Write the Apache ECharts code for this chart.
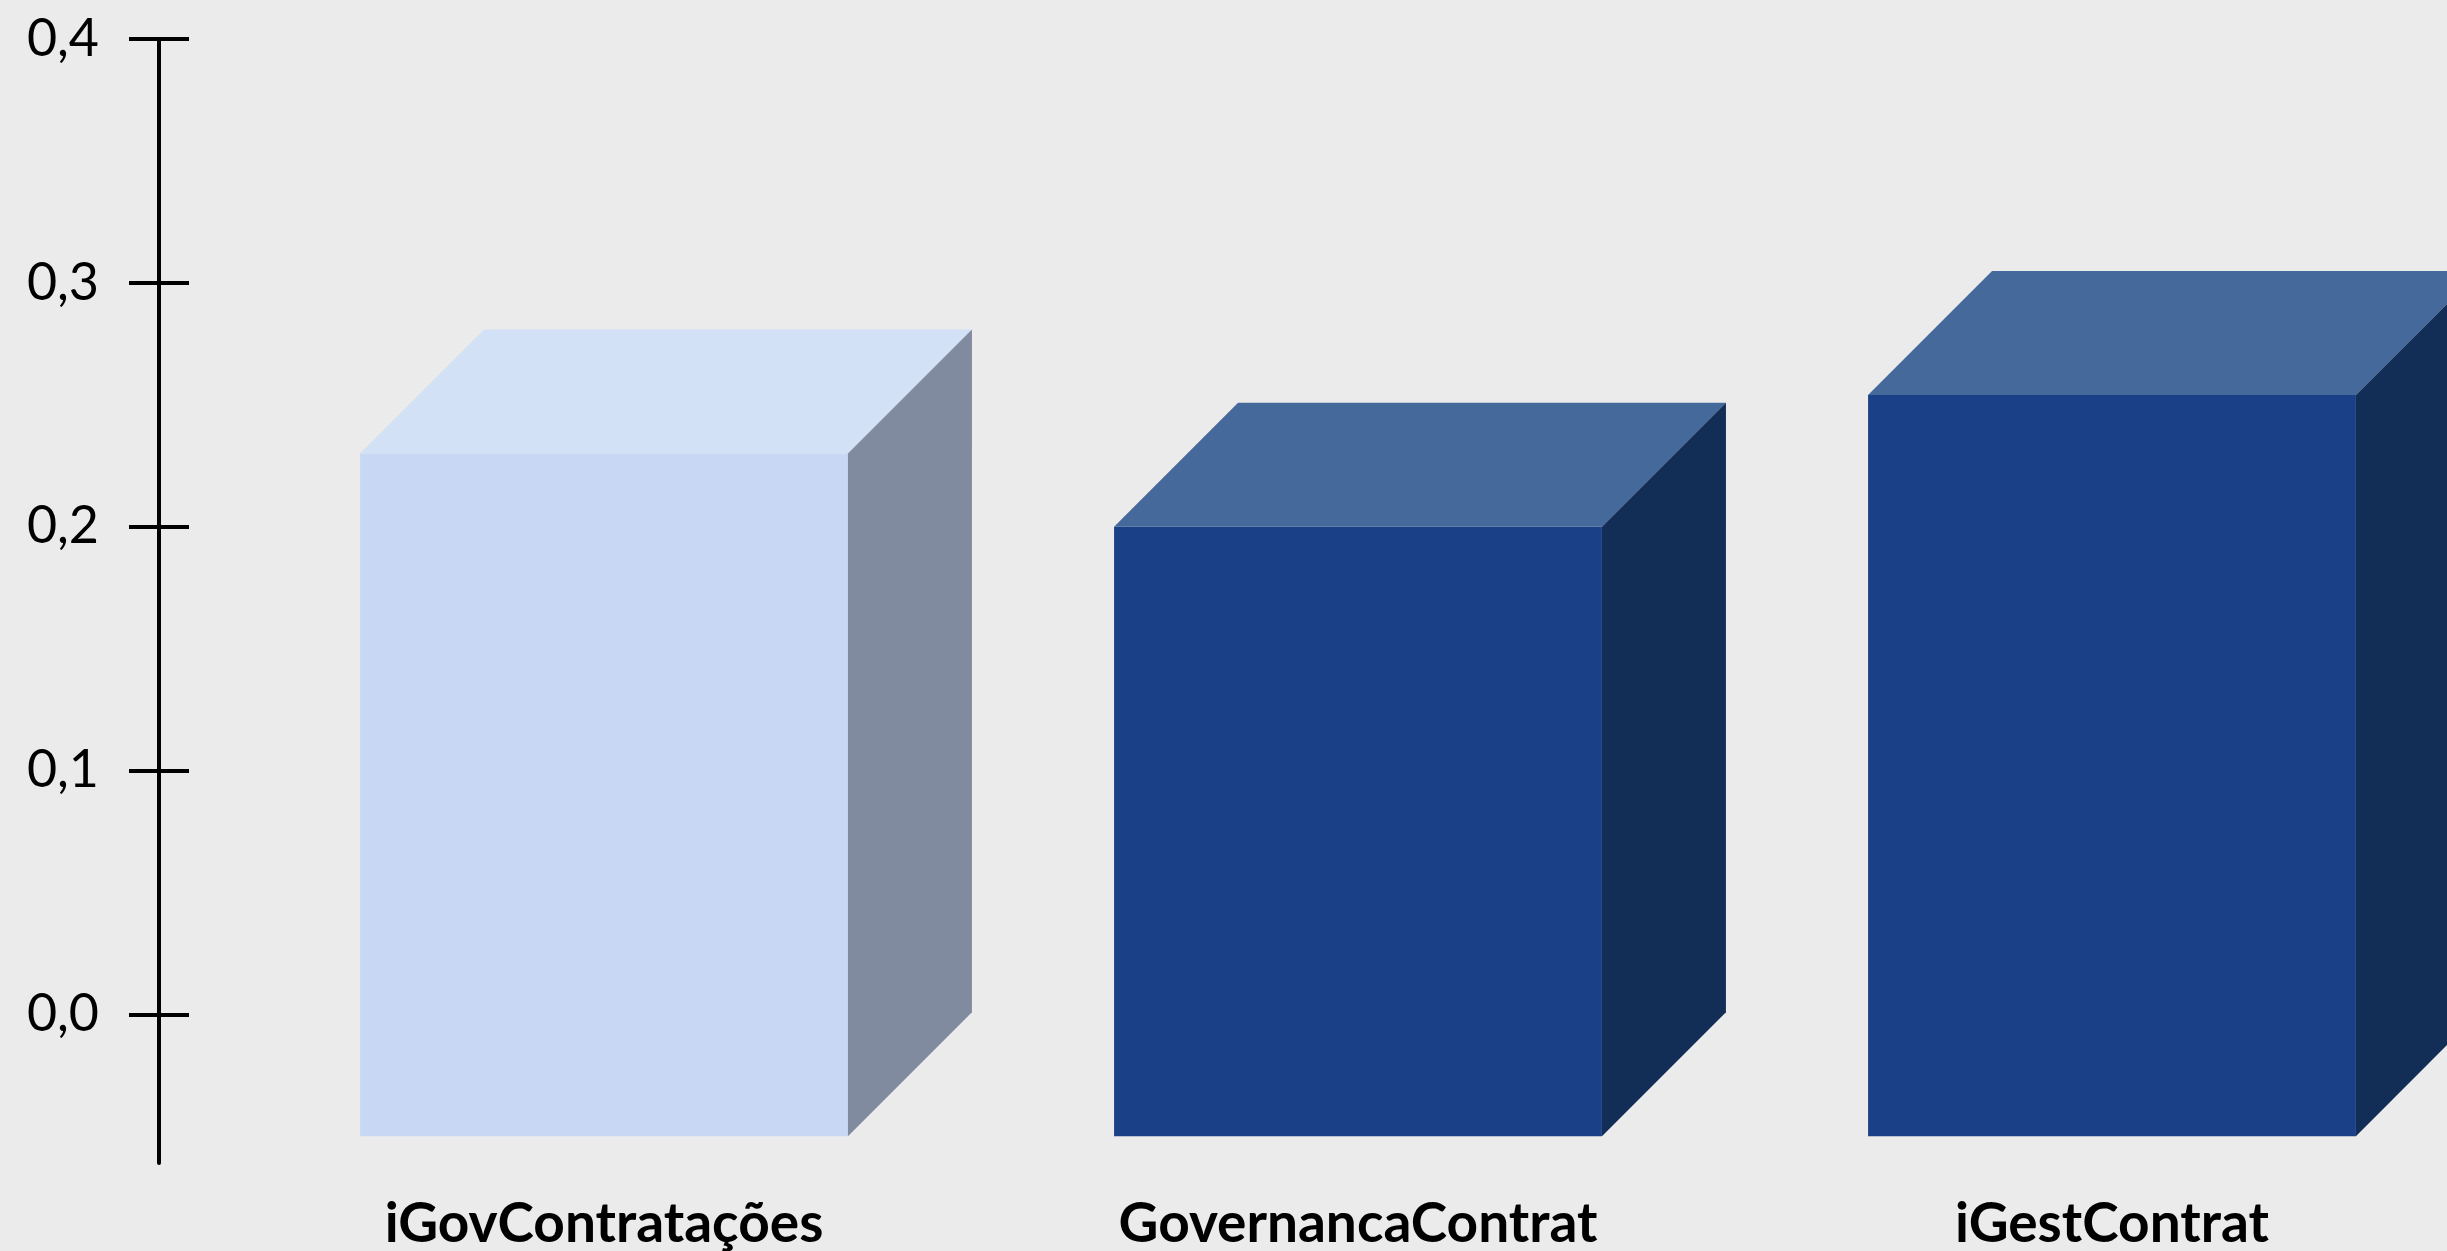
<!DOCTYPE html>
<html>
<head>
<meta charset="utf-8">
<script src="https://cdn.jsdelivr.net/npm/echarts@6/dist/echarts.min.js"></script>
<style>
  html, body { margin: 0; padding: 0; background: #EBEBEB; }
  #chart { width: 2447px; height: 1251px; }
</style>
</head>
<body>
<div id="chart"></div>
<script>
// ---- data ----
const categories = ['iGovContratações', 'GovernancaContrat', 'iGestContrat'];
const values = [0.23, 0.20, 0.254];
const barBase = -0.05;
const yTicks = [0, 0.1, 0.2, 0.3, 0.4];
const yMin = -0.061;
const yMax = 0.4;

// ---- styles ----
const palettes = [
  { front: '#C8D7F4', top: '#D2E1F6', side: '#818B9F' },
  { front: '#1A4087', top: '#46699C', side: '#122D56' },
  { front: '#1A4087', top: '#46699C', side: '#122D56' }
];
const DEPTH = 124;
const BAR_RATIO = 0.647;

const chart = echarts.init(document.getElementById('chart'), null, { renderer: 'canvas' });

const fmt = v => v.toFixed(1).replace('.', ',');

const option = {
  backgroundColor: '#EBEBEB',
  animation: false,
  grid: { left: 227, width: 2262, top: 39, height: 1124, containLabel: false, outerBoundsMode: 'none' },
  xAxis: {
    type: 'category',
    data: categories,
    axisLine: { show: false },
    axisTick: { show: false },
    splitLine: { show: false },
    axisLabel: {
      interval: 0,
      margin: 34,
      color: '#000',
      fontFamily: 'Lato',
      fontWeight: 'bold',
      fontSize: 55
    }
  },
  yAxis: [
    {
      type: 'value',
      min: yMin,
      max: yMax,
      position: 'left',
      offset: 68,
      splitLine: { show: false },
      axisLine: { show: true, lineStyle: { color: '#000', width: 4 } },
      axisTick: { show: true, length: 30, lineStyle: { color: '#000', width: 4 }, customValues: yTicks },
      axisLabel: {
        customValues: yTicks,
        formatter: fmt,
        margin: 60,
        color: '#000',
        fontFamily: 'Lato',
        fontSize: 52
      }
    },
    {
      type: 'value',
      min: yMin,
      max: yMax,
      position: 'left',
      offset: 68,
      splitLine: { show: false },
      axisLine: { show: false },
      axisTick: { show: true, inside: true, length: 30, lineStyle: { color: '#000', width: 4 }, customValues: yTicks },
      axisLabel: { show: false }
    }
  ],
  series: [{
    type: 'custom',
    clip: false,
    data: values.map((v, i) => [i, v]),
    encode: { x: 0, y: 1 },
    renderItem: function (params, api) {
      const idx = api.value(0);
      const v = api.value(1);
      const top = api.coord([idx, v]);
      const bot = api.coord([idx, barBase]);
      const bw = api.size([1, 0])[0] * BAR_RATIO;
      const l = top[0] - bw / 2, r = top[0] + bw / 2;
      const ty = top[1], by = bot[1];
      const p = palettes[idx];
      return {
        type: 'group',
        children: [
          { type: 'rect', shape: { x: l, y: ty, width: bw, height: by - ty }, style: { fill: p.front } },
          { type: 'polygon', shape: { points: [[l, ty], [r, ty], [r + DEPTH, ty - DEPTH], [l + DEPTH, ty - DEPTH]] }, style: { fill: p.top } },
          { type: 'polygon', shape: { points: [[r, ty], [r + DEPTH, ty - DEPTH], [r + DEPTH, by - DEPTH], [r, by]] }, style: { fill: p.side } }
        ]
      };
    }
  }]
};

chart.setOption(option);
</script>
</body>
</html>
